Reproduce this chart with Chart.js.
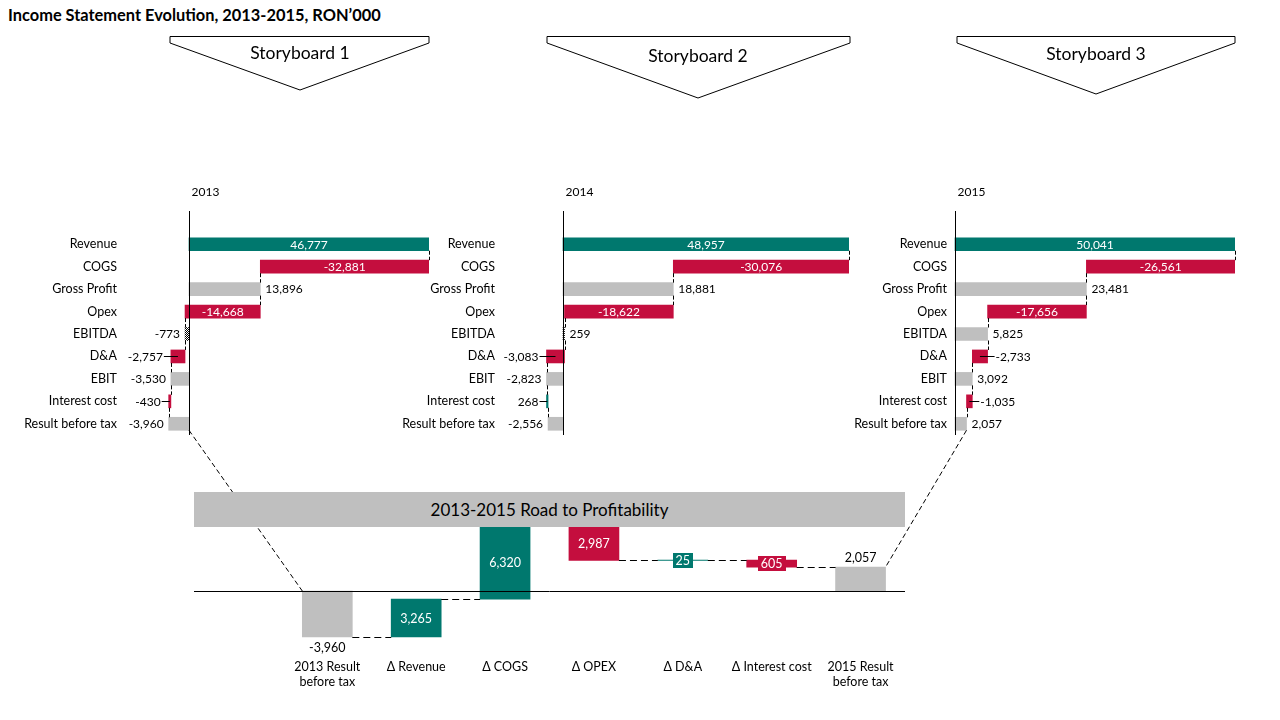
<!DOCTYPE html>
<html>
<head>
<meta charset="utf-8">
<script src="https://cdn.jsdelivr.net/npm/chart.js@4.4.1/dist/chart.umd.min.js"></script>
<style>
  body { margin: 0; background: #fff; width: 1280px; height: 720px; overflow: hidden; position: relative; font-family: Lato, sans-serif; }
  canvas { position: absolute; }
  #title { position: absolute; left: 8px; top: 5px; font-weight: bold; font-size: 16.4px; color: #000; }
  #banner { position: absolute; left: 194px; top: 492px; width: 711px; height: 35px; background: #bfbfbf; font-size: 17px; line-height: 35px; text-align: center; color: #000; z-index: 5; }
  #overlay { position: absolute; left: 0; top: 0; z-index: 4; }
</style>
</head>
<body>
<div id="title">Income Statement Evolution, 2013-2015, RON’000</div>
<svg id="overlay" width="1280" height="720"></svg>
<div id="banner">2013-2015 Road to Profitability</div>

<script>
// DATA
const rowLabels = ['Revenue', 'COGS', 'Gross Profit', 'Opex', 'EBITDA', 'D&A', 'EBIT', 'Interest cost', 'Result before tax'];
const rowKinds = ['start', 'delta', 'total', 'delta', 'total', 'delta', 'total', 'delta', 'total'];
const years = ['2013', '2014', '2015'];
const values2013 = [46777, -32881, 13896, -14668, -773, -2757, -3530, -430, -3960];
const values2014 = [48957, -30076, 18881, -18622, 259, -3083, -2823, 268, -2556];
const values2015 = [50041, -26561, 23481, -17656, 5825, -2733, 3092, -1035, 2057];

const bridgeLabels = [['2013 Result', 'before tax'], 'Δ Revenue', 'Δ COGS', 'Δ OPEX', 'Δ D&A', 'Δ Interest cost', ['2015 Result', 'before tax']];
const bridgeKinds = ['total', 'delta', 'delta', 'delta', 'delta', 'delta', 'total'];
const bridgeValues = [-3960, 3265, 6320, -2987, 25, -605, 2057];

const storyboards = ['Storyboard 1', 'Storyboard 2', 'Storyboard 3'];

// colours
const teal = '#00786e', red = '#c40e3e', grey = '#bfbfbf';

// checker pattern for the tiny EBITDA bars
function checker() {
  const c = document.createElement('canvas');
  c.width = 2; c.height = 2;
  const g = c.getContext('2d');
  g.fillStyle = '#fff'; g.fillRect(0, 0, 2, 2);
  g.fillStyle = '#000'; g.fillRect(0, 0, 1, 1); g.fillRect(1, 1, 1, 1);
  return g.createPattern(c, 'repeat');
}
const hatch = checker();

// floating bar ranges for a waterfall
function steps(values, kinds) {
  let run = 0;
  return values.map((v, i) => {
    if (kinds[i] === 'delta') {
      const r = [run, run + v];
      run += v;
      return r;
    }
    run = v;
    return [0, v];
  });
}

function barColour(v, kind) {
  if (kind === 'start') return teal;
  if (kind === 'delta') return v > 0 ? teal : red;
  return Math.abs(v) < 1000 ? hatch : grey;
}

const fmt = v => v.toLocaleString('en-US');

// PANEL (horizontal waterfall) plugin
const panelDecor = {
  id: 'panelDecor',
  afterDatasetsDraw(chart, args, o) {
    const ctx = chart.ctx, xs = chart.scales.x, ys = chart.scales.y, area = chart.chartArea;
    const x0 = Math.round(xs.getPixelForValue(0)) + 0.5;
    const half = 6.5;
    ctx.save();
    ctx.strokeStyle = '#000';
    ctx.lineWidth = 1;
    ctx.beginPath();
    ctx.moveTo(x0, area.top - 22);
    ctx.lineTo(x0, area.bottom);
    ctx.stroke();

    ctx.font = '12px Lato';
    ctx.fillStyle = '#000';
    ctx.textBaseline = 'middle';
    ctx.textAlign = 'left';
    ctx.fillText(o.year, x0 + 2, area.top - 41);

    // connectors between rows
    ctx.setLineDash([4, 2]);
    for (let i = 0; i < o.ranges.length - 1; i++) {
      const x = Math.round(xs.getPixelForValue(o.ranges[i][1])) + 0.5;
      ctx.beginPath();
      ctx.moveTo(x, ys.getPixelForValue(i) + half);
      ctx.lineTo(x, ys.getPixelForValue(i + 1) - half);
      ctx.stroke();
    }
    ctx.setLineDash([]);

    // value labels
    ctx.font = '12px Lato';
    o.ranges.forEach((r, i) => {
      const v = o.values[i], kind = o.kinds[i];
      const a = xs.getPixelForValue(r[0]), b = xs.getPixelForValue(r[1]);
      const lo = Math.min(a, b), hi = Math.max(a, b), y = ys.getPixelForValue(i) + 0.5;
      const txt = fmt(v);
      const tw = ctx.measureText(txt).width;
      if (kind !== 'total' && hi - lo > tw + 8) {
        ctx.fillStyle = '#fff';
        ctx.textAlign = 'center';
        ctx.fillText(txt, (lo + hi) / 2, y);
        return;
      }
      const left = (r[0] + r[1]) / 2 < 0;
      const lead = kind === 'delta';
      const gap = lead ? 8 : 5;
      const tx = left ? lo - gap : hi + gap;
      ctx.fillStyle = '#000';
      ctx.textAlign = left ? 'right' : 'left';
      ctx.fillText(txt, tx, y);
      if (lead) {
        ctx.beginPath();
        ctx.moveTo((lo + hi) / 2, Math.round(y) - 0.5);
        ctx.lineTo(left ? tx + 1 : tx - 1, Math.round(y) - 0.5);
        ctx.stroke();
      }
    });
    ctx.restore();
  }
};

const panelTop = 180, padTop = 53, areaH = 202, padBottom = 24, axisW = 130, padRight = 40;
const panelH = padTop + areaH + padBottom;
const panelLayout = [
  { labelRight: 117, chartLeft: 125, zero: 189, right: 429 },
  { labelRight: 495, chartLeft: 503, zero: 563, right: 849 },
  { labelRight: 947, chartLeft: 952, zero: 955, right: 1235 }
];

function makePanel(values, year, lay) {
  const ranges = steps(values, rowKinds);
  const canvas = document.createElement('canvas');
  const w = axisW + (lay.right - lay.chartLeft) + padRight;
  canvas.width = w; canvas.height = panelH;
  canvas.style.left = (lay.chartLeft - axisW) + 'px';
  canvas.style.top = panelTop + 'px';
  canvas.style.width = w + 'px';
  canvas.style.height = panelH + 'px';
  document.body.appendChild(canvas);

  const pxPerUnit = (lay.right - lay.zero) / values[0];
  const xMin = -(lay.zero - lay.chartLeft) / pxPerUnit;

  const chart = new Chart(canvas, {
    type: 'bar',
    data: {
      labels: rowLabels,
      datasets: [{
        data: ranges,
        backgroundColor: values.map((v, i) => barColour(v, rowKinds[i])),
        borderWidth: 0,
        borderSkipped: false,
        barThickness: 13
      }]
    },
    options: {
      indexAxis: 'y',
      responsive: false,
      animation: false,
      layout: { padding: { top: padTop, bottom: padBottom, right: padRight, left: 0 } },
      plugins: {
        legend: { display: false },
        tooltip: { enabled: false },
        panelDecor: { year: year, ranges: ranges, values: values, kinds: rowKinds }
      },
      scales: {
        x: { display: false, min: xMin, max: values[0] },
        y: {
          grid: { display: false, drawTicks: false },
          border: { display: false },
          ticks: { color: '#000', padding: lay.chartLeft - lay.labelRight, font: { family: 'Lato', size: 12.5 } },
          afterFit(scale) { scale.width = axisW; }
        }
      }
    },
    plugins: [panelDecor]
  });
  return { chart, left: lay.chartLeft - axisW, top: panelTop, ranges };
}

const p1 = makePanel(values2013, years[0], panelLayout[0]);
const p2 = makePanel(values2014, years[1], panelLayout[1]);
const p3 = makePanel(values2015, years[2], panelLayout[2]);

// BRIDGE (vertical waterfall) plugin
const bridgeDecor = {
  id: 'bridgeDecor',
  afterDatasetsDraw(chart, args, o) {
    const ctx = chart.ctx, xs = chart.scales.x, ys = chart.scales.y, area = chart.chartArea;
    const meta = chart.getDatasetMeta(0);
    const y0 = Math.round(ys.getPixelForValue(0)) + 0.5;
    ctx.save();
    ctx.strokeStyle = '#000';
    ctx.lineWidth = 1;
    ctx.beginPath();
    ctx.moveTo(area.left, y0);
    ctx.lineTo(area.right, y0);
    ctx.stroke();

    // connectors
    ctx.setLineDash([7, 4]);
    for (let i = 0; i < o.ranges.length - 1; i++) {
      const el = meta.data[i + 1], nx = meta.data[i + 2];
      const y = Math.round(ys.getPixelForValue(o.ranges[i][1])) + 0.5;
      ctx.beginPath();
      ctx.moveTo(el.x + el.width / 2, y);
      ctx.lineTo(nx.x - nx.width / 2, y);
      ctx.stroke();
    }
    ctx.setLineDash([]);

    ctx.font = '12.5px Lato';
    ctx.textBaseline = 'middle';
    ctx.textAlign = 'center';
    o.ranges.forEach((r, i) => {
      const v = o.values[i], kind = o.kinds[i];
      const el = meta.data[i + 1];
      const a = ys.getPixelForValue(r[0]), b = ys.getPixelForValue(r[1]);
      const top = Math.min(a, b), bot = Math.max(a, b);
      const txt = fmt(Math.abs(v));
      const tw = ctx.measureText(txt).width;
      if (kind === 'total') {
        ctx.fillStyle = '#000';
        ctx.fillText(fmt(v), el.x, v < 0 ? bot + 11 : top - 9);
      } else if (bot - top > 16) {
        ctx.fillStyle = '#fff';
        ctx.fillText(txt, el.x, (top + bot) / 2 + 1);
      } else {
        const cy = (top + bot) / 2;
        ctx.fillStyle = v > 0 ? teal : red;
        ctx.fillRect(Math.round(el.x - tw / 2 - 3), Math.round(cy - 7.5), Math.round(tw + 6), 15);
        ctx.fillStyle = '#fff';
        ctx.fillText(txt, el.x, cy + 0.5);
      }
    });
    ctx.restore();
  }
};

const bridgeLeft = 194, bridgeTop = 500, bridgeW = 711, bridgeH = 200, bridgeAxisH = 60, bridgePadR = 30;
const bridgeZeroY = 591, bridgePxPerUnit = 46 / 3960;
const bridgeAreaH = bridgeH - bridgeAxisH;
const bridgeMax = (bridgeZeroY - bridgeTop) / bridgePxPerUnit;
const bridgeMin = -(bridgeTop + bridgeAreaH - bridgeZeroY) / bridgePxPerUnit;

const bridgeRanges = steps(bridgeValues, bridgeKinds);
const bCanvas = document.createElement('canvas');
bCanvas.width = bridgeW + bridgePadR; bCanvas.height = bridgeH;
bCanvas.style.left = bridgeLeft + 'px';
bCanvas.style.top = bridgeTop + 'px';
bCanvas.style.width = (bridgeW + bridgePadR) + 'px';
bCanvas.style.height = bridgeH + 'px';
document.body.appendChild(bCanvas);

const bridge = new Chart(bCanvas, {
  type: 'bar',
  data: {
    labels: [''].concat(bridgeLabels),
    datasets: [{
      data: [null].concat(bridgeRanges),
      backgroundColor: ['#fff'].concat(bridgeValues.map((v, i) => bridgeKinds[i] === 'total' ? grey : (v > 0 ? teal : red))),
      borderWidth: 0,
      borderSkipped: false,
      barThickness: 50
    }]
  },
  options: {
    responsive: false,
    animation: false,
    layout: { padding: { left: 0, top: 0, bottom: 0, right: bridgePadR } },
    plugins: {
      legend: { display: false },
      tooltip: { enabled: false },
      bridgeDecor: { ranges: bridgeRanges, values: bridgeValues, kinds: bridgeKinds }
    },
    scales: {
      y: { display: false, min: bridgeMin, max: bridgeMax },
      x: {
        grid: { display: false, drawTicks: false },
        border: { display: false },
        ticks: { color: '#000', padding: 19, maxRotation: 0, autoSkip: false, font: { family: 'Lato', size: 12.5 } },
        afterFit(scale) { scale.height = bridgeAxisH; }
      }
    }
  },
  plugins: [bridgeDecor]
});

// OVERLAY: storyboard arrows and the dashed links between panels and bridge
const svg = document.getElementById('overlay');
const NS = 'http://www.w3.org/2000/svg';
function add(tag, attrs, text) {
  const el = document.createElementNS(NS, tag);
  for (const k in attrs) el.setAttribute(k, attrs[k]);
  if (text) el.textContent = text;
  svg.appendChild(el);
  return el;
}

const sbShapes = [
  { x1: 170, x2: 429, tip: 300, tipY: 90, ty: 55 },
  { x1: 547, x2: 850, tip: 698, tipY: 98, ty: 58 },
  { x1: 957, x2: 1235, tip: 1096, tipY: 94, ty: 56 }
];
sbShapes.forEach((s, i) => {
  add('polygon', {
    points: `${s.x1},36.5 ${s.x2},36.5 ${s.x2},43 ${s.tip},${s.tipY} ${s.x1},43`,
    fill: '#fff', stroke: '#000', 'stroke-width': 1
  });
  add('text', {
    x: s.tip, y: s.ty, 'text-anchor': 'middle', 'dominant-baseline': 'middle',
    'font-family': 'Lato', 'font-size': 17.5, fill: '#000'
  }, storyboards[i]);
});

function panelResultCorner(p, end) {
  const xs = p.chart.scales.x, ys = p.chart.scales.y;
  const last = p.ranges.length - 1;
  return {
    x: p.left + xs.getPixelForValue(end),
    y: p.top + ys.getPixelForValue(last) + 6.5
  };
}
const bMeta = bridge.getDatasetMeta(0);
const bFirst = bMeta.data[1], bLast = bMeta.data[bMeta.data.length - 1];
const bys = bridge.scales.y;

const a1 = panelResultCorner(p1, 0);
add('line', {
  x1: a1.x, y1: a1.y,
  x2: bridgeLeft + bFirst.x - bFirst.width / 2, y2: bridgeTop + bys.getPixelForValue(0),
  stroke: '#000', 'stroke-width': 1, 'stroke-dasharray': '5,3'
});
const a3 = panelResultCorner(p3, values2015[values2015.length - 1]);
add('line', {
  x1: a3.x, y1: a3.y,
  x2: bridgeLeft + bLast.x + bLast.width / 2, y2: bridgeTop + bys.getPixelForValue(bridgeValues[bridgeValues.length - 1]),
  stroke: '#000', 'stroke-width': 1, 'stroke-dasharray': '5,3'
});
</script>
</body>
</html>
